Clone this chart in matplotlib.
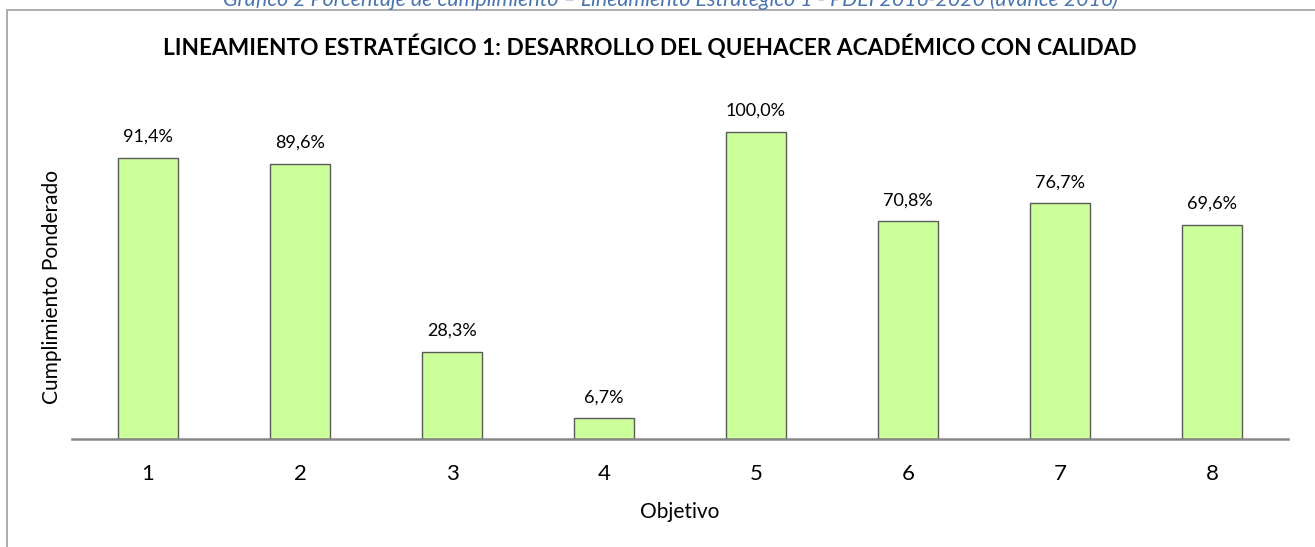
import matplotlib
matplotlib.use("Agg")
import matplotlib.pyplot as plt
from matplotlib.patches import Rectangle

# ---------------------------------------------------------
# Data
# ---------------------------------------------------------
objetivos = ["1", "2", "3", "4", "5", "6", "7", "8"]
cumplimiento = [0.914, 0.896, 0.283, 0.067, 1.000, 0.708, 0.767, 0.696]

caption = ("Gráfico 2 Porcentaje de cumplimiento – Lineamiento Estratégico 1 "
           "- PDEI 2016-2020 (avance 2016)")
title = "LINEAMIENTO ESTRATÉGICO 1: DESARROLLO DEL QUEHACER ACADÉMICO CON CALIDAD"

plt.rcParams["font.family"] = ["Lato", "DejaVu Sans"]

W, H = 1315, 547
fig = plt.figure(figsize=(W / 100, H / 100), dpi=100)
ax = fig.add_axes([72 / W, (H - 439) / H, 1216 / W, 339 / H])

x = list(range(len(objetivos)))
ax.bar(x, cumplimiento, width=0.4, color="#CCFF99",
       edgecolor="#595959", linewidth=1.0, zorder=2)

# data labels with decimal comma
for xi, v in zip(x, cumplimiento):
    lbl = f"{v * 100:.1f}%".replace(".", ",")
    ax.annotate(lbl, (xi, v), xytext=(0, 11.5), textcoords="offset points",
                ha="center", va="baseline", fontsize=13, color="#000000")

ax.set_xlim(-0.5, len(objetivos) - 0.5)
ax.set_ylim(0, 339 / 281 * 0.914)
ax.set_xticks(x)
ax.set_xticklabels(objetivos, fontsize=16)
ax.tick_params(axis="x", length=0, pad=18)
ax.set_yticks([])
for s in ["top", "right", "left"]:
    ax.spines[s].set_visible(False)
ax.spines["bottom"].set_color("#868686")
ax.spines["bottom"].set_linewidth(1.8)

ax.set_xlabel("Objetivo", fontsize=15, labelpad=13)
fig.text(52 / W, 1 - 287 / H, "Cumplimiento Ponderado", rotation=90,
         ha="center", va="center", fontsize=15)

fig.text(650 / W, 1 - 47 / H, title, ha="center", va="center",
         fontsize=16.3, fontweight="bold")

# chart border (runs off the right and bottom edges)
fig.patches.append(Rectangle((7 / W, -0.05), 1.1, 1 - 10 / H + 0.05,
                             transform=fig.transFigure, fill=False,
                             edgecolor="#A6A6A6", linewidth=1.3))

# caption above the chart, partly cut off at the top
fig.text(670 / W, 1 - 6 / H, caption, ha="center", va="baseline",
         fontsize=15.4, style="italic", color="#4A74B0")

fig.savefig("out.png", dpi=100)
